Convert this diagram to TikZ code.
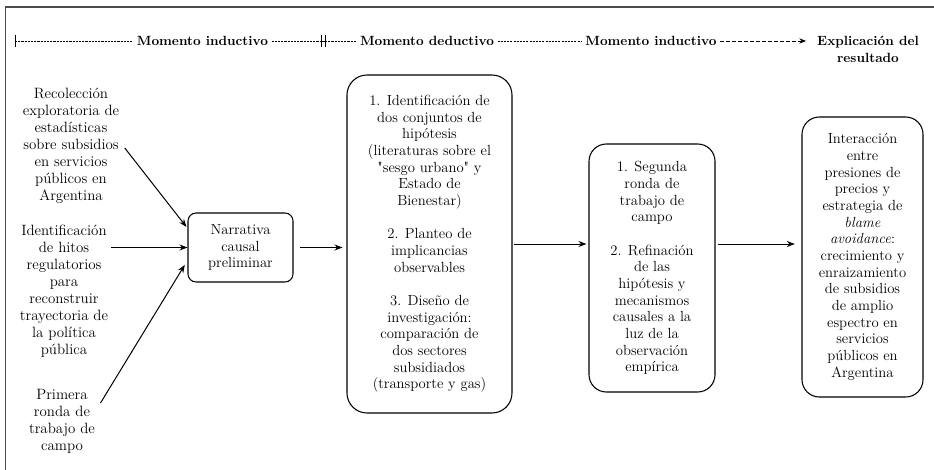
\documentclass[tikz,border=0pt]{standalone}
\usepackage{fontspec}
\newfontfamily\plainrm{Latin Modern Roman}
\usetikzlibrary{arrows.meta}
\newcommand{\sq}{{\plainrm"}}
\begin{document}
\begin{tikzpicture}[x=0.75pt,y=-0.75pt,
  txt/.style={align=center,font=\fontsize{11.2}{12.75}\selectfont,inner sep=2pt},
  hdr/.style={font=\fontsize{10}{12.75}\selectfont\bfseries,inner xsep=2.5pt,inner ysep=1pt},
  rbox/.style={draw,line width=0.8pt,align=center,font=\fontsize{11}{12.5}\selectfont,inner sep=0pt},
  arr/.style={line width=0.75pt,-{Stealth[length=6pt,width=4.5pt]}},
  fine/.style={line width=0.45pt,dash pattern=on 1.6pt off 0.8pt},
  tickmark/.style={line width=0.6pt},
]
\useasboundingbox (0,0) rectangle (934,470);
\draw[line width=1pt,black!70] (5.5,470) -- (5.5,7) -- (934,7);

% header
\node[hdr] (h1) at (202.5,41) {Momento inductivo};
\node[hdr] (h2) at (427,41) {Momento deductivo};
\node[hdr] (h3) at (651,41) {Momento inductivo};
\node[hdr,align=center] (h4) at (868,49.5) {Explicación del\\resultado};
\coordinate (t0) at (15,41);
\coordinate (t1) at (321,41);
\coordinate (t2) at (325,41);
\coordinate (tend) at (806,41);
\draw[fine] (t0) -- (h1.west);
\draw[fine] (h1.east) -- (t1);
\draw[tickmark] (t1) -- (t2);
\draw[fine] (t2) -- (h2.west);
\draw[fine] (h2.east) -- (h3.west);
\draw[line width=0.7pt,dash pattern=on 3pt off 1.5pt,-{Stealth[length=5pt,width=4pt]}] (h3.east) -- (tend);
\draw[tickmark] ([yshift=-4.5pt]t0) -- ([yshift=4.5pt]t0);
\draw[tickmark] ([yshift=-4.5pt]t1) -- ([yshift=4.5pt]t1);
\draw[tickmark] ([yshift=-4.5pt]t2) -- ([yshift=4.5pt]t2);

% left texts
\node[txt] (l1) at (71,146) {Recolección\\exploratoria de\\estadísticas\\sobre subsidios\\en servicios\\públicos en\\Argentina};
\node[txt] (l2) at (64,291) {Identificación\\de hitos\\regulatorios\\para\\reconstruir\\trayectoria de\\la política\\pública};
\node[txt] (l3) at (62,421) {Primera\\ronda de\\trabajo de\\campo};

% boxes
\node[rbox,rounded corners=6pt,minimum width=78.75pt,minimum height=51.75pt] (narr) at (240.5,247.5) {Narrativa\\causal\\preliminar};
\node[rbox,rounded corners=15pt,minimum width=123.75pt,minimum height=253.5pt] (b1) at (429.5,244)
 {1. Identificación de\\dos conjuntos de\\hipótesis\\(literaturas sobre el\\\sq sesgo urbano\sq{} y\\Estado de\\Bienestar)\\[12.5pt]
  2. Planteo de\\implicancias\\observables\\[12.5pt]
  3. Diseño de\\investigación:\\comparación de\\dos sectores\\subsidiados\\(transporte y gas)};
\node[rbox,rounded corners=13pt,minimum width=94.5pt,minimum height=186pt] (b2) at (652,268)
 {1. Segunda\\ronda de\\trabajo de\\campo\\[12.5pt]
  2. Refinación\\de las\\hipótesis y\\mecanismos\\causales a la\\luz de la\\observación\\empírica};
\node[rbox,rounded corners=13pt,minimum width=90.75pt,minimum height=210pt] (b3) at (862.5,257)
 {Interacción\\entre\\presiones de\\precios y\\estrategia de\\\textit{blame}\\\textit{avoidance}:\\crecimiento y\\enraizamiento\\de subsidios\\de amplio\\espectro en\\servicios\\públicos en\\Argentina};

% arrows
\draw[arr] ([xshift=2pt,yshift=-1.5pt]l1.east) -- ([xshift=-0.75pt,yshift=15.4pt]narr.west);
\draw[arr] (l2.east |- narr.west) -- (narr.west);
\draw[arr] ([xshift=2pt,yshift=13.5pt]l3.east) -- ([xshift=-2pt,yshift=-13pt]narr.west);
\draw[arr,shorten <=5pt,shorten >=3pt] (narr.east) -- (narr.east -| b1.west);
\draw[arr,shorten <=0.75pt,shorten >=1.5pt] (b1.east) -- (b1.east -| b2.west);
\draw[arr,shorten <=1.5pt,shorten >=5pt] (b2.east |- b1.east) -- (b1.east -| b3.west);
\end{tikzpicture}
\end{document}
